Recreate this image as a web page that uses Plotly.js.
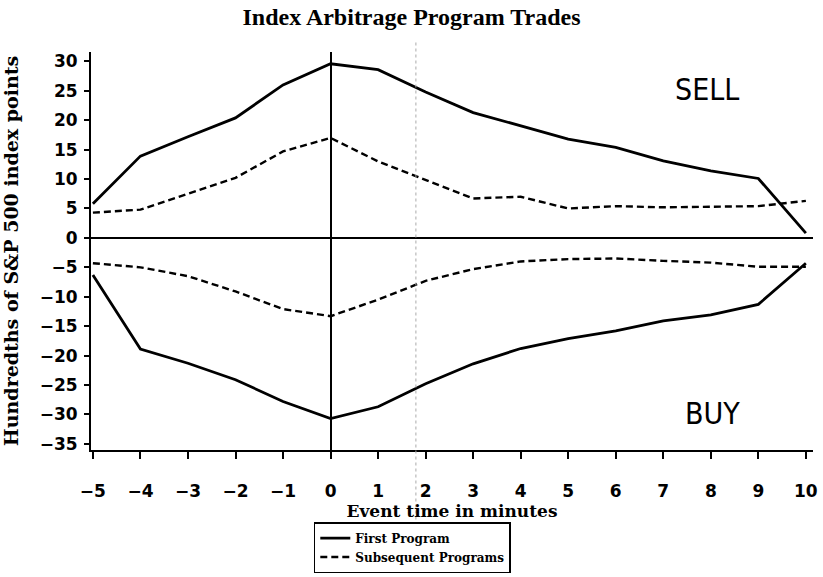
<!DOCTYPE html>
<html>
<head>
<meta charset="utf-8">
<script src="https://cdn.plot.ly/plotly-3.0.1.min.js"></script>
<style>html,body{margin:0;padding:0;background:#fff;}#chart{width:823px;height:577px;}</style>
</head>
<body>
<div id="chart"></div>
<script>
const minutes = [-5,-4,-3,-2,-1,0,1,2,3,4,5,6,7,8,9,10];
const firstSell = [5.8,13.9,17.2,20.4,26.0,29.6,28.6,24.8,21.3,19.0,16.8,15.4,13.1,11.4,10.1,0.8];
const subsequentSell = [4.3,4.8,7.5,10.2,14.7,17.0,13.0,9.9,6.7,7.0,5.0,5.4,5.2,5.3,5.4,6.3];
const firstBuy = [-6.3,-18.9,-21.3,-24.1,-27.8,-30.7,-28.7,-24.8,-21.4,-18.8,-17.1,-15.8,-14.1,-13.1,-11.3,-4.3];
const subsequentBuy = [-4.3,-5.0,-6.5,-9.1,-12.1,-13.3,-10.5,-7.3,-5.3,-4.0,-3.6,-3.5,-3.9,-4.2,-4.9,-4.9];
const yTicks = [30,25,20,15,10,5,0,-5,-10,-15,-20,-25,-30,-35];
const xTicks = minutes;
const fmt = v => v < 0 ? '\u2212' + Math.abs(v) : String(v);

const solid = {color:'#000', width:2.8};
const dashed = {color:'#000', width:2.4, dash:'7px,4px'};

const traces = [
  {x:minutes, y:firstSell, mode:'lines', line:solid, name:'First Program'},
  {x:minutes, y:subsequentSell, mode:'lines', line:dashed, name:'Subsequent Programs'},
  {x:minutes, y:firstBuy, mode:'lines', line:solid, name:'First Program', showlegend:false},
  {x:minutes, y:subsequentBuy, mode:'lines', line:dashed, name:'Subsequent Programs', showlegend:false}
];

const tickFont = {family:'DejaVu Sans, sans-serif', size:17, color:'#000', weight:'bold'};

const layout = {
  width:823, height:577,
  margin:{l:91, r:10, t:52, b:127, autoexpand:false},
  paper_bgcolor:'#fff', plot_bgcolor:'#fff',
  title:{text:'Index Arbitrage Program Trades', x:0.5, xanchor:'center', xref:'container', y:0.972, yanchor:'middle',
         font:{family:'Liberation Serif, Times New Roman, serif', size:24, color:'#000', weight:'bold'}},
  xaxis:{range:[-5.04,10.15], tickvals:xTicks, ticktext:xTicks.map(fmt),
         showgrid:false, showline:true, linecolor:'#000', linewidth:2, ticks:'outside', ticklen:7, tickwidth:2, tickcolor:'#000',
         zeroline:true, zerolinecolor:'#000', zerolinewidth:2, tickfont:tickFont, ticklabelstandoff:18,
         title:{text:'Event time in minutes', font:{family:'DejaVu Serif, serif', size:17, color:'#000', weight:'bold'}, standoff:4}},
  yaxis:{range:[-36.05,31.6], tickvals:yTicks, ticktext:yTicks.map(fmt),
         showgrid:false, showline:true, linecolor:'#000', linewidth:2, ticks:'outside', ticklen:5, tickwidth:2, tickcolor:'#000',
         zeroline:true, zerolinecolor:'#000', zerolinewidth:2, tickfont:tickFont, ticklabelstandoff:3,
         title:{text:'Hundredths of S&P 500 index points', font:{family:'DejaVu Serif, serif', size:19, color:'#000', weight:'bold'}, standoff:16}},
  showlegend:true,
  legend:{x:0.445, xanchor:'center', y:-0.181, yanchor:'top', bgcolor:'#fff', bordercolor:'#000', borderwidth:1.5,
          font:{family:'DejaVu Serif, serif', size:12, color:'#000', weight:'bold'},
          tracegroupgap:0, itemwidth:30},
  shapes:[
    {type:'line', xref:'paper', yref:'paper', x0:0.45, x1:0.45, y0:-0.25, y1:1.03,
     line:{color:'#aaa', width:1, dash:'dot'}}
  ],
  annotations:[
    {text:'SELL', xref:'x', yref:'y', x:7.93, y:25.2, showarrow:false,
     font:{family:'Liberation Sans Narrow, DejaVu Sans Condensed, sans-serif', size:30, color:'#000'}},
    {text:'BUY', xref:'x', yref:'y', x:8.03, y:-29.9, showarrow:false,
     font:{family:'Liberation Sans Narrow, DejaVu Sans Condensed, sans-serif', size:30, color:'#000'}}
  ]
};

Plotly.newPlot('chart', traces, layout, {displayModeBar:false, staticPlot:true});
</script>
</body>
</html>
